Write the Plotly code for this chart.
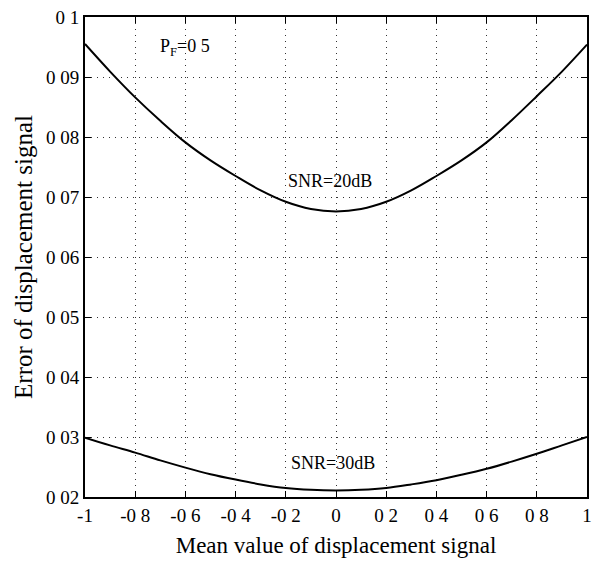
import plotly.graph_objects as go

x_vals = [-1.0, -0.9, -0.8, -0.7, -0.6, -0.5, -0.4, -0.3, -0.2, -0.1, 0.0,
          0.1, 0.2, 0.3, 0.4, 0.5, 0.6, 0.7, 0.8, 0.9, 1.0]
err_snr20 = [0.0955, 0.0909, 0.0866, 0.0827, 0.0791, 0.0761, 0.0735, 0.0711, 0.0692, 0.0680, 0.0676,
             0.0680, 0.0692, 0.0711, 0.0735, 0.0761, 0.0791, 0.0828, 0.0868, 0.0909, 0.0954]
err_snr30 = [0.0299, 0.0286, 0.0274, 0.0261, 0.0249, 0.0238, 0.0229, 0.0221, 0.0215, 0.0212, 0.0211,
             0.0212, 0.0215, 0.0221, 0.0228, 0.0237, 0.0247, 0.0259, 0.0272, 0.0286, 0.0300]

x_ticks = [-1, -0.8, -0.6, -0.4, -0.2, 0, 0.2, 0.4, 0.6, 0.8, 1]
x_ticklabels = ["-1", "-0 8", "-0 6", "-0 4", "-0 2", "0", "0 2", "0 4", "0 6", "0 8", "1"]
y_ticks = [0.02, 0.03, 0.04, 0.05, 0.06, 0.07, 0.08, 0.09, 0.1]
y_ticklabels = ["0 02", "0 03", "0 04", "0 05", "0 06", "0 07", "0 08", "0 09", "0 1"]

font_family = "Times New Roman"

fig = go.Figure()
fig.add_trace(go.Scatter(x=x_vals, y=err_snr20, mode="lines", line_shape="spline",
                         line=dict(color="black", width=2), showlegend=False))
fig.add_trace(go.Scatter(x=x_vals, y=err_snr30, mode="lines", line_shape="spline",
                         line=dict(color="black", width=2), showlegend=False))

fig.add_annotation(x=-0.6, y=0.0949, text="P<sub>F</sub>=0 5", showarrow=False,
                   font=dict(family=font_family, size=18, color="black"))
fig.add_annotation(x=-0.025, y=0.0727, text="SNR=20dB", showarrow=False,
                   font=dict(family=font_family, size=18, color="black"))
fig.add_annotation(x=-0.013, y=0.02575, text="SNR=30dB", showarrow=False,
                   font=dict(family=font_family, size=18, color="black"))

axis_common = dict(
    showline=True, linecolor="black", linewidth=2, mirror="ticks",
    ticks="inside", ticklen=6, tickcolor="black", tickwidth=1,
    showgrid=True, gridcolor="#333333", griddash="1px,5px", gridwidth=1,
    zeroline=False,
    tickfont=dict(family=font_family, size=19, color="black"),
)

fig.update_xaxes(range=[-1, 1], tickvals=x_ticks, ticktext=x_ticklabels,
                 title=dict(text="Mean value of displacement signal",
                            font=dict(family=font_family, size=23, color="black"),
                            standoff=12),
                 **axis_common)
fig.update_yaxes(range=[0.02, 0.1], tickvals=y_ticks, ticktext=y_ticklabels,
                 title=dict(text="Error of displacement signal",
                            font=dict(family=font_family, size=25, color="black"),
                            standoff=6),
                 **axis_common)

fig.update_layout(
    width=595, height=562,
    margin=dict(l=85, r=3, t=17, b=65),
    paper_bgcolor="white", plot_bgcolor="white",
    font=dict(family=font_family, color="black"),
)

fig.write_html("out.html", config={"displayModeBar": False},
               post_script="document.body.style.margin='0';document.body.style.overflow='hidden';")
